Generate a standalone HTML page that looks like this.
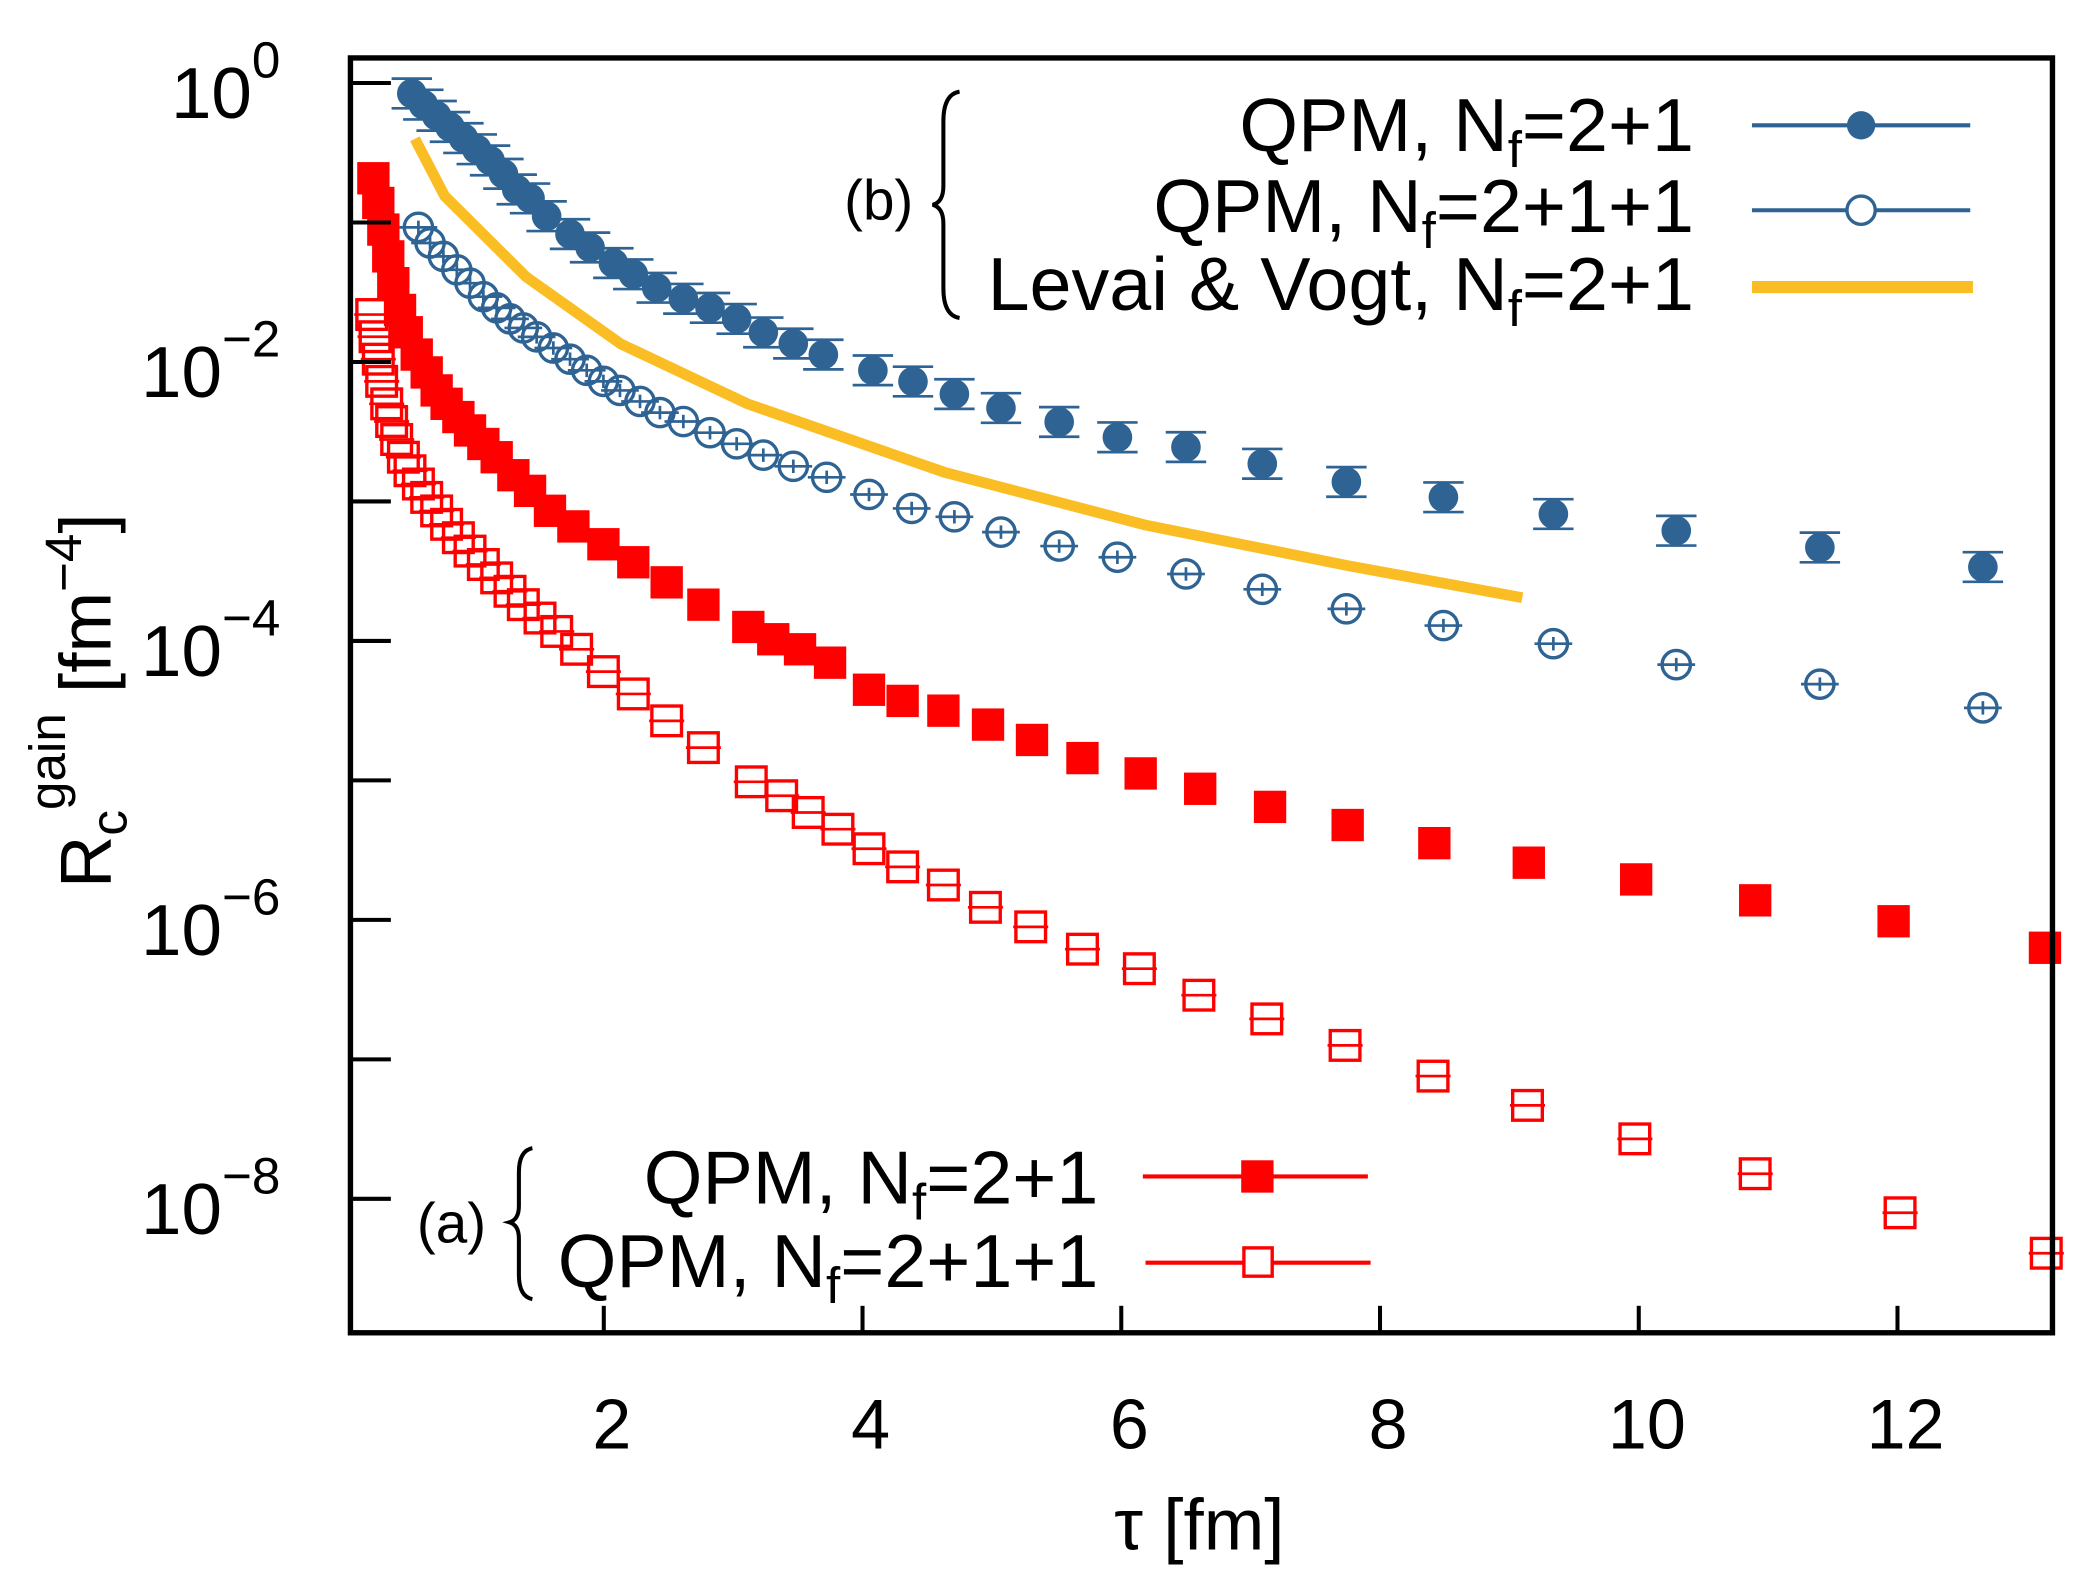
<!DOCTYPE html>
<html><head><meta charset="utf-8"><style>
html,body{margin:0;padding:0;background:#fff}
svg{display:block}
text{font-family:"Liberation Sans",sans-serif}
</style></head><body>
<svg id="chart" xmlns="http://www.w3.org/2000/svg" width="2097" height="1574" viewBox="0 0 1556 1168">
<g id="marks"></g>
<rect x="260" y="43" width="1263" height="946" fill="none" stroke="#000" stroke-width="4"/>
<g id="axes"></g>
<text x="890" y="1150" font-size="54" text-anchor="middle">τ [fm]</text>
<g transform="translate(82,520) rotate(-90)">
<text font-size="54" text-anchor="middle">R<tspan font-size="38" dy="12">c</tspan><tspan font-size="38" dy="-46">gain</tspan><tspan font-size="54" dy="34"> [fm</tspan><tspan font-size="38" dy="-22">−4</tspan><tspan font-size="54" dy="22">]</tspan></text>
</g>
<g>
<text x="652" y="163" font-size="42" text-anchor="middle" font-family="Liberation Serif,serif">(b)</text>
<path d="M712,68 Q700,70 700,90 L700,138 Q700,150 692,152 Q700,154 700,166 L700,214 Q700,234 712,236" fill="none" stroke="#000" stroke-width="3"/>
<text x="1257" y="112" font-size="56" text-anchor="end">QPM, N<tspan font-size="38" dy="12">f</tspan><tspan dy="-12">=2+1</tspan></text>
<line x1="1300" y1="93" x2="1462" y2="93" stroke="#2e6393" stroke-width="3"/><circle cx="1381" cy="93" r="10.5" fill="#2e6393"/>
<text x="1257" y="172" font-size="56" text-anchor="end">QPM, N<tspan font-size="38" dy="12">f</tspan><tspan dy="-12">=2+1+1</tspan></text>
<line x1="1300" y1="156" x2="1462" y2="156" stroke="#2e6393" stroke-width="3"/><circle cx="1381" cy="156" r="10.5" fill="#fff" stroke="#2e6393" stroke-width="2.5"/>
<text x="1257" y="230" font-size="56" text-anchor="end">Levai &amp; Vogt, N<tspan font-size="38" dy="12">f</tspan><tspan dy="-12">=2+1</tspan></text>
<line x1="1300" y1="213" x2="1464" y2="213" stroke="#fbbd24" stroke-width="9"/>
</g>
<g>
<text x="335" y="922" font-size="42" text-anchor="middle" font-family="Liberation Serif,serif">(a)</text>
<path d="M395,852 Q385,854 385,870 L385,895 Q385,905 378,907 Q385,909 385,919 L385,946 Q385,962 395,964" fill="none" stroke="#000" stroke-width="3"/>
<text x="815" y="893" font-size="56" text-anchor="end">QPM, N<tspan font-size="38" dy="12">f</tspan><tspan dy="-12">=2+1</tspan></text>
<line x1="848" y1="873" x2="1015" y2="873" stroke="#f00" stroke-width="3"/><rect x="921" y="861" width="24" height="24" fill="#f00"/>
<text x="815" y="955" font-size="56" text-anchor="end">QPM, N<tspan font-size="38" dy="12">f</tspan><tspan dy="-12">=2+1+1</tspan></text>
<line x1="850" y1="937" x2="1017" y2="937" stroke="#f00" stroke-width="3"/><rect x="923" y="926" width="21" height="21" fill="#fff" stroke="#f00" stroke-width="2.5"/>
</g>
</svg>
<script>
const blueFilledTau=[0.516,0.605,0.708,0.811,0.915,1.018,1.121,1.224,1.327,1.430,1.558,1.739,1.894,2.074,2.228,2.409,2.615,2.821,3.027,3.233,3.465,3.697,4.08,4.39,4.71,5.07,5.52,5.97,6.5,7.09,7.74,8.49,9.34,10.29,11.4,12.66];
const blueFilledLog=[-0.075,-0.155,-0.235,-0.315,-0.395,-0.475,-0.555,-0.651,-0.763,-0.827,-0.955,-1.083,-1.179,-1.291,-1.371,-1.468,-1.547,-1.612,-1.691,-1.788,-1.868,-1.947,-2.06,-2.14,-2.23,-2.33,-2.43,-2.54,-2.61,-2.73,-2.86,-2.97,-3.09,-3.21,-3.33,-3.47];
const blueOpenTau=[0.567,0.657,0.760,0.864,0.966,1.069,1.172,1.275,1.378,1.481,1.610,1.739,1.868,1.997,2.125,2.280,2.434,2.615,2.821,3.027,3.233,3.465,3.723,4.05,4.38,4.71,5.07,5.52,5.97,6.5,7.09,7.74,8.49,9.34,10.29,11.4,12.66];
const blueOpenLog=[-1.035,-1.147,-1.243,-1.339,-1.435,-1.532,-1.612,-1.691,-1.756,-1.820,-1.900,-1.980,-2.060,-2.139,-2.204,-2.283,-2.363,-2.427,-2.507,-2.587,-2.668,-2.748,-2.827,-2.95,-3.05,-3.11,-3.22,-3.32,-3.40,-3.52,-3.63,-3.77,-3.89,-4.02,-4.17,-4.31,-4.48];
const levaiTau=[0.54,0.77,1.40,2.13,3.11,4.63,6.19,7.75,9.10];
const levaiLog=[-0.40,-0.81,-1.39,-1.87,-2.30,-2.79,-3.17,-3.46,-3.69];
const redFilledTau=[0.219,0.257,0.296,0.334,0.373,0.425,0.477,0.554,0.631,0.708,0.785,0.876,0.966,1.069,1.172,1.301,1.430,1.584,1.765,1.997,2.228,2.486,2.770,3.117,3.310,3.517,3.749,4.05,4.31,4.625,4.97,5.31,5.70,6.15,6.61,7.15,7.75,8.42,9.15,9.98,10.9,11.97,13.14];
const redFilledLog=[-0.683,-0.860,-1.051,-1.243,-1.435,-1.627,-1.787,-1.947,-2.075,-2.204,-2.300,-2.395,-2.491,-2.588,-2.683,-2.812,-2.924,-3.067,-3.179,-3.307,-3.436,-3.580,-3.740,-3.900,-3.988,-4.060,-4.156,-4.35,-4.43,-4.50,-4.60,-4.71,-4.84,-4.95,-5.06,-5.19,-5.32,-5.45,-5.59,-5.71,-5.86,-6.01,-6.20];
const redOpenTau=[0.206,0.232,0.257,0.283,0.322,0.360,0.399,0.451,0.502,0.567,0.631,0.708,0.785,0.876,0.966,1.069,1.172,1.275,1.378,1.507,1.636,1.790,1.997,2.228,2.486,2.770,3.14,3.375,3.58,3.81,4.05,4.31,4.625,4.95,5.30,5.70,6.14,6.60,7.125,7.73,8.41,9.14,9.97,10.9,12.02,13.15];
const redOpenLog=[-1.660,-1.819,-1.980,-2.139,-2.300,-2.427,-2.556,-2.683,-2.780,-2.875,-2.971,-3.068,-3.164,-3.260,-3.356,-3.452,-3.548,-3.644,-3.740,-3.836,-3.932,-4.060,-4.220,-4.380,-4.573,-4.765,-5.01,-5.11,-5.23,-5.35,-5.49,-5.62,-5.75,-5.91,-6.05,-6.21,-6.35,-6.54,-6.71,-6.90,-7.12,-7.33,-7.57,-7.82,-8.10,-8.39];
const xTicks=[2,4,6,8,10,12];
const yTickExps=[0,-1,-2,-3,-4,-5,-6,-7,-8];
const yLabelExps=[0,-2,-4,-6,-8];

const NS="http://www.w3.org/2000/svg";
function X(t){return 256+96*t;}
function Y(l){return 61.6-103.5*l;}
const marks=document.getElementById('marks');
const axes=document.getElementById('axes');
function mk(tag,attrs,parent){const e=document.createElementNS(NS,tag);for(const k in attrs)e.setAttribute(k,attrs[k]);parent.appendChild(e);return e;}

xTicks.forEach(v=>{
  const l=mk('line',{x1:X(v),x2:X(v),y1:989,y2:969,stroke:'#000','stroke-width':3},axes);
  
  
  const t=mk('text',{x:X(v)+6,y:1075,'font-size':52,'text-anchor':'middle'},axes);
  t.textContent=v;
  
  
});
yTickExps.forEach(e=>{
  const l=mk('line',{x1:260,x2:290,y1:Y(e),y2:Y(e),stroke:'#000','stroke-width':3},axes);
  
  
});
yLabelExps.forEach(e=>{
  const t=mk('text',{x:208,y:Y(e)+26,'font-size':54,'text-anchor':'end'},axes);
  
  
  const a=document.createElementNS(NS,'tspan');a.textContent='10';t.appendChild(a);
  const b=document.createElementNS(NS,'tspan');b.setAttribute('font-size','38');b.setAttribute('dy','-30');
  b.textContent=e===0?'0':'−'+(-e);t.appendChild(b);
});

function errbar(g,x,y,col,w,h){
  mk('line',{x1:x,x2:x,y1:y-h,y2:y+h,stroke:col,'stroke-width':2},g);
  mk('line',{x1:x-w,x2:x+w,y1:y-h,y2:y-h,stroke:col,'stroke-width':2},g);
  mk('line',{x1:x-w,x2:x+w,y1:y+h,y2:y+h,stroke:col,'stroke-width':2},g);
}

const lv=mk('polyline',{points:levaiTau.map((t,i)=>X(t)+','+Y(levaiLog[i])).join(' '),fill:'none',stroke:'#fbbd24','stroke-width':8},marks);



const gRO=mk('g',{},marks);


redOpenTau.forEach((t,i)=>{const x=X(t),y=Y(redOpenLog[i]);
  mk('rect',{x:x-11,y:y-11,width:22,height:22,fill:'none',stroke:'#f00','stroke-width':2.5},gRO);
  mk('line',{x1:x-13,x2:x+13,y1:y,y2:y,stroke:'#f00','stroke-width':2},gRO);});

const gRF=mk('g',{},marks);


redFilledTau.forEach((t,i)=>{const x=X(t),y=Y(redFilledLog[i]);
  mk('rect',{x:x-12,y:y-12,width:24,height:24,fill:'#f00'},gRF);});

const gBO=mk('g',{},marks);


blueOpenTau.forEach((t,i)=>{const x=X(t),y=Y(blueOpenLog[i]);
  mk('circle',{cx:x,cy:y,r:10.5,fill:'none',stroke:'#2e6393','stroke-width':2.5},gBO);
  mk('line',{x1:x-14,x2:x+14,y1:y,y2:y,stroke:'#2e6393','stroke-width':2},gBO);
  mk('line',{x1:x,x2:x,y1:y-5,y2:y+5,stroke:'#2e6393','stroke-width':2},gBO);});

const gBF=mk('g',{},marks);


blueFilledTau.forEach((t,i)=>{const x=X(t),y=Y(blueFilledLog[i]);
  errbar(gBF,x,y,'#2e6393',15,11);
  mk('circle',{cx:x,cy:y,r:11,fill:'#2e6393'},gBF);});
</script>
</body></html>
